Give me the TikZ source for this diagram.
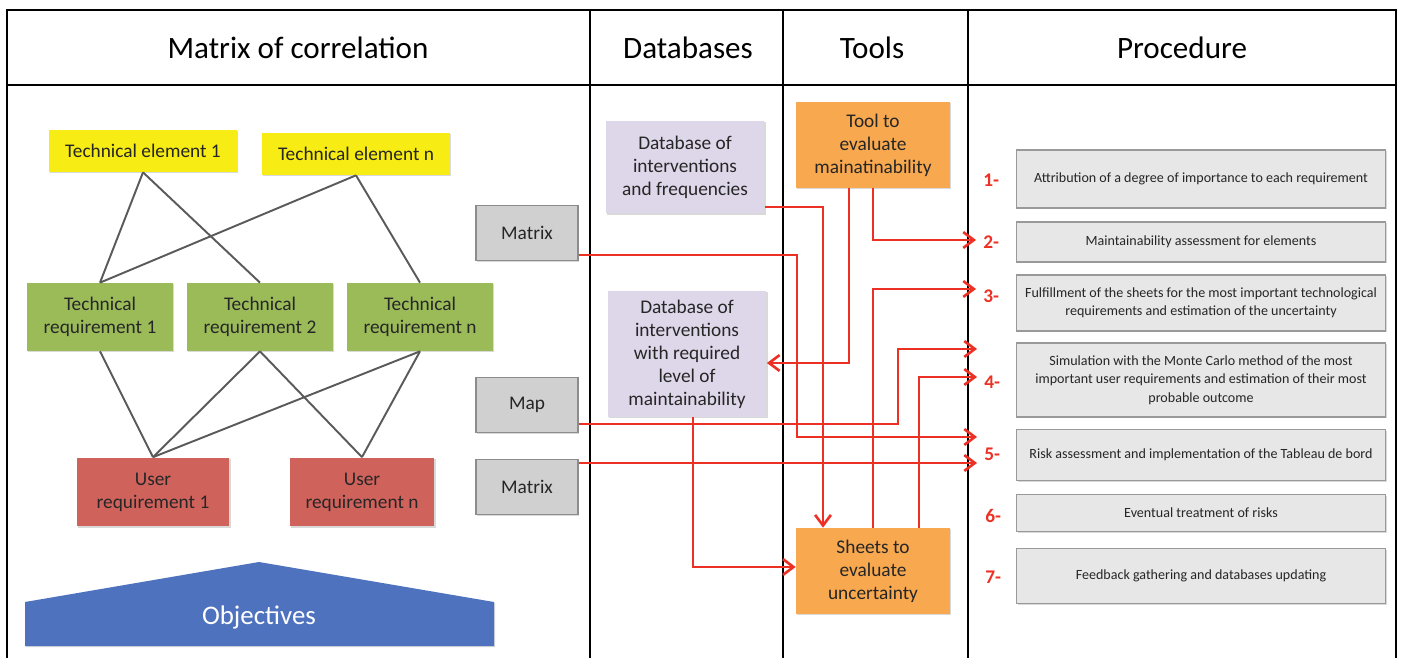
\documentclass[tikz,border=0pt]{standalone}
\usepackage{fontspec}
\setmainfont{Carlito}
\usetikzlibrary{arrows.meta,shadows}

\definecolor{elemyellow}{RGB}{247,236,20}
\definecolor{reqgreen}{RGB}{155,187,89}
\definecolor{userred}{RGB}{208,98,92}
\definecolor{dblilac}{RGB}{222,214,233}
\definecolor{toolorange}{RGB}{248,168,78}
\definecolor{srcgray}{RGB}{208,208,208}
\definecolor{procgray}{RGB}{231,231,231}
\definecolor{flowred}{RGB}{236,48,36}
\definecolor{objblue}{RGB}{78,114,190}
\definecolor{linkgray}{RGB}{90,90,90}

\begin{document}
\begin{tikzpicture}[x=0.02cm,y=-0.02cm,
  grid/.style={line width=0.9pt,black},
  head/.style={font=\fontsize{17.7}{21}\selectfont},
  box/.style={align=center,inner sep=1pt,text=black!85,
    font=\fontsize{11}{13.1}\selectfont,
    drop shadow={shadow xshift=0.7pt,shadow yshift=-0.7pt,opacity=0.3}},
  elem/.style={box,fill=elemyellow,minimum width=3.76cm,minimum height=0.84cm},
  treq/.style={box,fill=reqgreen,minimum width=2.92cm,minimum height=1.36cm},
  ureq/.style={box,fill=userred,minimum height=1.38cm},
  src/.style={box,fill=srcgray,draw=black!45,line width=0.6pt,minimum width=2.04cm,minimum height=1.1cm},
  db/.style={box,fill=dblilac,minimum width=3.18cm},
  tool/.style={box,fill=toolorange,minimum width=3.08cm,minimum height=1.72cm},
  stepbox/.style={box,fill=procgray,draw=black!40,line width=0.6pt,minimum width=7.38cm,
    font=\fontsize{8}{10.4}\selectfont},
  num/.style={anchor=west,inner sep=0pt,inner xsep=4pt,text=flowred,
    font=\bfseries\fontsize{11}{13}\selectfont},
  link/.style={linkgray,line width=1.1pt},
  flow/.style={flowred,line width=1.5pt,-{Straight Barb[length=6pt,width=9pt]}}
]
\useasboundingbox (0,0) rectangle (1402,658);

% table frame and columns
\draw[grid] (7,660) -- (7,10) -- (1396,10) -- (1396,660);
\draw[grid,line width=1.4pt] (7,85) -- (1396,85);
\foreach \x in {590,783,968}
  \draw[grid] (\x,10) -- (\x,660);

\node[head] (hmat)  at (298,48)  {Matrix of correlation};
\node[head] (hdb)   at (688,48)  {Databases};
\node[head] (htool) at (872,48)  {Tools};
\node[head] (hproc) at (1182,48) {Procedure};

% matrix of correlation
\node[elem] (te1) at (143,151) {Technical element 1};
\node[elem] (ten) at (356,154) {Technical element n};
\node[treq] (tr1) at (100,317) {Technical\\requirement 1};
\node[treq] (tr2) at (260,317) {Technical\\requirement 2};
\node[treq] (trn) at (420,317) {Technical\\requirement n};
\node[ureq,minimum width=3.06cm] (ur1) at (153,492) {User\\requirement 1};
\node[ureq,minimum width=2.9cm]  (urn) at (362,492) {User\\requirement n};

\foreach \a/\b in {te1/tr1,te1/tr2,ten/tr1,ten/trn,tr1/ur1,tr2/ur1,tr2/urn,trn/ur1,trn/urn}
  \draw[link] (\a.south) -- (\b.north);

\fill[objblue,drop shadow={shadow xshift=0.7pt,shadow yshift=-0.7pt,opacity=0.3}]
  (25,602) -- (259,562) -- (494,602) -- (494,646) -- (25,646) -- cycle;
\node[text=white,font=\fontsize{15.3}{18}\selectfont] (obj) at (259,617) {Objectives};

% inputs
\node[src] (m1)  at (527,233) {Matrix};
\node[src] (map) at (527,405) {Map};
\node[src] (m2)  at (527,487) {Matrix};

% databases and tools
\node[db,minimum height=1.86cm] (db1) at (685,167) {Database of\\interventions\\and frequencies};
\node[db,minimum height=2.52cm] (db2) at (687,354) {Database of\\interventions\\with required\\level of\\maintainability};
\node[tool] (tool)   at (873,145) {Tool to\\evaluate\\mainatinability};
\node[tool] (sheets) at (873,571) {Sheets to\\evaluate\\uncertainty};

% procedure
\node[stepbox,minimum height=1.16cm] (p1) at (1201,179) {Attribution of a degree of importance to each requirement};
\node[stepbox,minimum height=0.8cm]  (p2) at (1201,242) {Maintainability assessment for elements};
\node[stepbox,minimum height=1.12cm] (p3) at (1201,303) {Fulfillment of the sheets for the most important technological\\requirements and estimation of the uncertainty};
\node[stepbox,minimum height=1.48cm] (p4) at (1201,380) {Simulation with the Monte Carlo method of the most\\important user requirements and estimation of their most\\probable outcome};
\node[stepbox,minimum height=1.02cm] (p5) at (1201,455) {Risk assessment and implementation of the Tableau de bord};
\node[stepbox,minimum height=0.74cm] (p6) at (1201,513) {Eventual treatment of risks};
\node[stepbox,minimum height=1.1cm]  (p7) at (1201,576) {Feedback gathering and databases updating};

\node[num] (n1) at (976,180) {1-};
\node[num] (n2) at (976,242) {2-};
\node[num] (n3) at (976,296) {3-};
\node[num] (n4) at (977,382) {4-};
\node[num] (n5) at (977,454) {5-};
\node[num] (n6) at (978,516) {6-};
\node[num] (n7) at (978,577) {7-};

% flows
\draw[flow] (db1.east |- 0,207) -| (823,0 |- sheets.north);
\draw[flow] (m1.east |- 0,255) -| (797,437) -- (n5.west |- 0,437);
\draw[flow] (849,0 |- tool.south) |- (db2.east |- 0,363);
\draw[flow] (tool.south) |- (n2.west |- 0,240);
\draw[flow] (sheets.north) |- (n3.west |- 0,289);
\draw[flow] (map.east |- 0,424) -| (898,349) -- (n4.west |- 0,349);
\draw[flow] (919,0 |- sheets.north) |- (n4.west |- 0,377);
\draw[flow] (m2.east |- 0,463) -- (n5.west |- 0,463);
\draw[flow] (693,0 |- db2.south) |- (sheets.west |- 0,567);
\end{tikzpicture}
\end{document}
